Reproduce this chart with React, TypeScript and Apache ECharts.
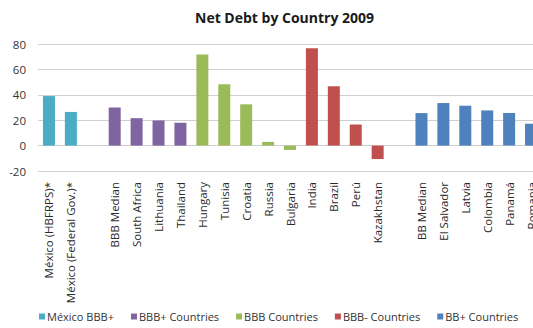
import React, { useEffect, useRef } from "react";
import * as echarts from "echarts";

const categories = [
  "México (HBFRPS)*", "México (Federal Gov.)*", "",
  "BBB Median", "South Africa", "Lithuania", "Thailand",
  "Hungary", "Tunisia", "Croatia", "Russia", "Bulgaria",
  "India", "Brazil", "Perú", "Kazakhstan", "",
  "BB Median", "El Salvador", "Latvia", "Colombia", "Panamá", "Romania",
];

const mexicoVals = [39, 26.5];
const bbbPlusVals = [30, 21.6, 19.8, 18];
const bbbVals = [71.8, 48.3, 32.5, 2.9, -3.4];
const bbbMinusVals = [76.6, 46.7, 16.6, -10.6];
const bbPlusVals = [25.6, 33.5, 31.4, 27.7, 25.6, 17.2];

const groups = [
  { name: "México BBB+", start: 0, values: mexicoVals, color: "#4BACC6" },
  { name: "BBB+ Countries", start: 3, values: bbbPlusVals, color: "#8064A2" },
  { name: "BBB Countries", start: 7, values: bbbVals, color: "#9BBB59" },
  { name: "BBB- Countries", start: 12, values: bbbMinusVals, color: "#C0504D" },
  { name: "BB+ Countries", start: 17, values: bbPlusVals, color: "#4F81BD" },
];

const yTicks = { min: -20, max: 80, interval: 20 };

export default function App() {
  const ref = useRef<HTMLDivElement>(null);
  useEffect(() => {
    if (!ref.current) return;
    const chart = echarts.init(ref.current, undefined, { renderer: "svg" });
    const font = "'Open Sans', sans-serif";
    chart.setOption({
      animation: false,
      title: {
        text: "Net Debt by Country 2009",
        left: 190,
        top: 5,
        textStyle: { fontFamily: font, fontWeight: "bold", fontSize: 14, color: "#1a1a1a" },
      },
      legend: {
        left: 34,
        bottom: 1,
        itemWidth: 6,
        itemHeight: 6,
        itemGap: 17,
        icon: "rect",
        textStyle: { fontFamily: font, fontSize: 11, color: "#333", padding: [0, 0, 0, -3] },
        data: groups.map((g) => g.name),
      },
      grid: { left: 38, top: 44, width: 504, bottom: 157, containLabel: false },
      xAxis: {
        type: "category",
        data: categories,
        axisLine: { show: false, onZero: false },
        axisTick: { show: false },
        axisLabel: {
          rotate: 90,
          interval: 0,
          margin: 11,
          fontFamily: font,
          fontSize: 11.5,
          color: "#2a2a2a",
        },
      },
      yAxis: {
        type: "value",
        min: yTicks.min,
        max: yTicks.max,
        interval: yTicks.interval,
        axisLine: { show: false },
        axisTick: { show: false },
        axisLabel: { fontFamily: font, fontSize: 11.5, color: "#333", margin: 12 },
        splitLine: { lineStyle: { color: "#cfcfcf", width: 1.2 } },
      },
      series: groups.map((g) => {
        const data: (number | string)[] = categories.map(() => "-");
        g.values.forEach((v, i) => (data[g.start + i] = v));
        return {
          name: g.name,
          type: "bar",
          stack: "all",
          barWidth: 12,
          itemStyle: { color: g.color },
          data,
        };
      }),
    });
    return () => chart.dispose();
  }, []);
  return (
    <div style={{ position: "fixed", left: 0, top: 0, width: 533, height: 328, overflow: "hidden", background: "#fff" }}>
      <div ref={ref} style={{ width: 560, height: 328 }} />
    </div>
  );
}
